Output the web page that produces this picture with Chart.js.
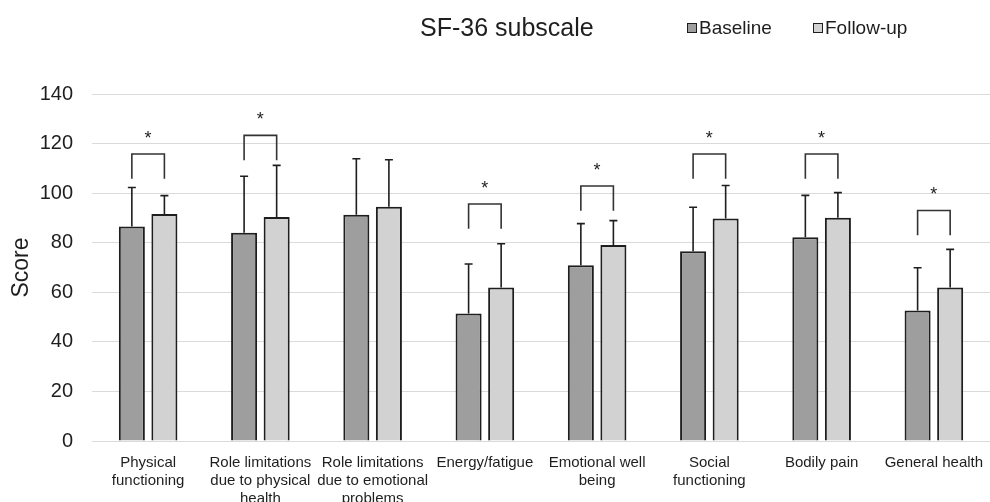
<!DOCTYPE html>
<html>
<head>
<meta charset="utf-8">
<script src="https://cdn.jsdelivr.net/npm/chart.js@4.4.1/dist/chart.umd.min.js"></script>
<style>
  html, body { margin: 0; padding: 0; overflow: hidden; background: #fff; }
</style>
</head>
<body>
<canvas id="chart" width="990" height="502"></canvas>
<script>
const categories = [
  'Physical|functioning',
  'Role limitations|due to physical|health',
  'Role limitations|due to emotional|problems',
  'Energy/fatigue',
  'Emotional well|being',
  'Social|functioning',
  'Bodily pain',
  'General health'
];
const baseline   = [86.5, 84.0, 91.3, 51.4, 70.9, 76.6, 82.2, 52.7];
const baselineSD = [15.8, 22.8, 22.6, 20.0, 16.8, 17.7, 16.9, 17.2];
const followUp   = [91.6, 90.4, 94.5, 61.9, 79.1, 89.8, 90.1, 61.9];
const followUpSD = [7.4, 20.8, 19.0, 17.7, 9.8, 13.3, 10.1, 15.4];
// top of the significance bracket (score units), null = no bracket
const bracketTop = [115.8, 123.3, null, 95.6, 102.9, 115.8, 115.8, 93.0];
const yTicks = [0, 20, 40, 60, 80, 100, 120, 140];

const FONT = '"Liberation Sans", Arial, sans-serif';
const INK = '#1e1e1e';

// error bars, brackets, title and legend
const extras = {
  id: 'extras',
  afterDatasetsDraw(chart) {
    const ctx = chart.ctx;
    const y = chart.scales.y;
    const m0 = chart.getDatasetMeta(0);
    const m1 = chart.getDatasetMeta(1);
    ctx.save();
    ctx.strokeStyle = INK;
    ctx.lineWidth = 1.6;
    [[m0, baseline, baselineSD], [m1, followUp, followUpSD]].forEach(([meta, vals, sds]) => {
      meta.data.forEach((bar, i) => {
        const yt = y.getPixelForValue(vals[i] + sds[i]);
        ctx.beginPath();
        ctx.moveTo(bar.x, bar.y);
        ctx.lineTo(bar.x, yt);
        ctx.moveTo(bar.x - 4, yt);
        ctx.lineTo(bar.x + 4, yt);
        ctx.stroke();
      });
    });

    ctx.strokeStyle = '#333';
    ctx.fillStyle = INK;
    ctx.font = '18px ' + FONT;
    ctx.textAlign = 'center';
    ctx.textBaseline = 'middle';
    bracketTop.forEach((top, i) => {
      if (top === null) return;
      const x0 = m0.data[i].x, x1 = m1.data[i].x;
      const yt = y.getPixelForValue(top);
      const yb = y.getPixelForValue(top - 10);
      ctx.beginPath();
      ctx.moveTo(x0, yb);
      ctx.lineTo(x0, yt);
      ctx.lineTo(x1, yt);
      ctx.lineTo(x1, yb);
      ctx.stroke();
      ctx.fillText('*', (x0 + x1) / 2, yt - 15);
    });
    ctx.restore();
  },
  afterDraw(chart) {
    const ctx = chart.ctx;
    ctx.save();
    ctx.fillStyle = INK;
    ctx.textBaseline = 'middle';
    ctx.textAlign = 'left';
    ctx.font = '25px ' + FONT;
    ctx.fillText('SF-36 subscale', 420, 29);

    ctx.font = '19px ' + FONT;
    const items = [[687, 0], [813, 1]];
    items.forEach(([x, d]) => {
      const ds = chart.data.datasets[d];
      ctx.fillStyle = ds.backgroundColor;
      ctx.fillRect(x, 23, 10, 10);
      ctx.strokeStyle = INK;
      ctx.lineWidth = 1;
      ctx.strokeRect(x + 0.5, 23.5, 9, 9);
      ctx.fillStyle = INK;
      ctx.fillText(ds.label, x + 12, 29);
    });
    ctx.restore();
  }
};

new Chart(document.getElementById('chart'), {
  type: 'bar',
  data: {
    labels: categories.map(c => c.split('|')),
    datasets: [
      {
        label: 'Baseline',
        data: baseline,
        backgroundColor: '#9e9e9e',
        borderColor: INK,
        borderWidth: 2,
        categoryPercentage: 0.58,
        barPercentage: 0.8
      },
      {
        label: 'Follow-up',
        data: followUp,
        backgroundColor: '#d2d2d2',
        borderColor: INK,
        borderWidth: 2,
        categoryPercentage: 0.58,
        barPercentage: 0.8
      }
    ]
  },
  options: {
    responsive: false,
    animation: false,
    layout: { padding: { top: 94, right: 0, left: 0, bottom: 0 } },
    plugins: {
      legend: { display: false },
      title: { display: false },
      tooltip: { enabled: false }
    },
    scales: {
      x: {
        grid: { display: false },
        border: { display: false },
        ticks: {
          color: INK,
          font: { family: FONT, size: 15, lineHeight: 1.2 },
          padding: 5,
          maxRotation: 0,
          autoSkip: false
        },
        afterFit(scale) { scale.height = 61; }
      },
      y: {
        min: 0,
        max: 140,
        afterBuildTicks(scale) { scale.ticks = yTicks.map(v => ({ value: v })); },
        grid: { color: '#dadada', lineWidth: 1, drawTicks: false },
        border: { display: false },
        ticks: {
          color: INK,
          font: { family: FONT, size: 20 },
          padding: 19
        },
        title: {
          display: true,
          text: 'Score',
          color: INK,
          font: { family: FONT, size: 23 },
          padding: { top: 8, bottom: 0 }
        },
        afterFit(scale) { scale.width = 92; }
      }
    }
  },
  plugins: [extras]
});
</script>
</body>
</html>
